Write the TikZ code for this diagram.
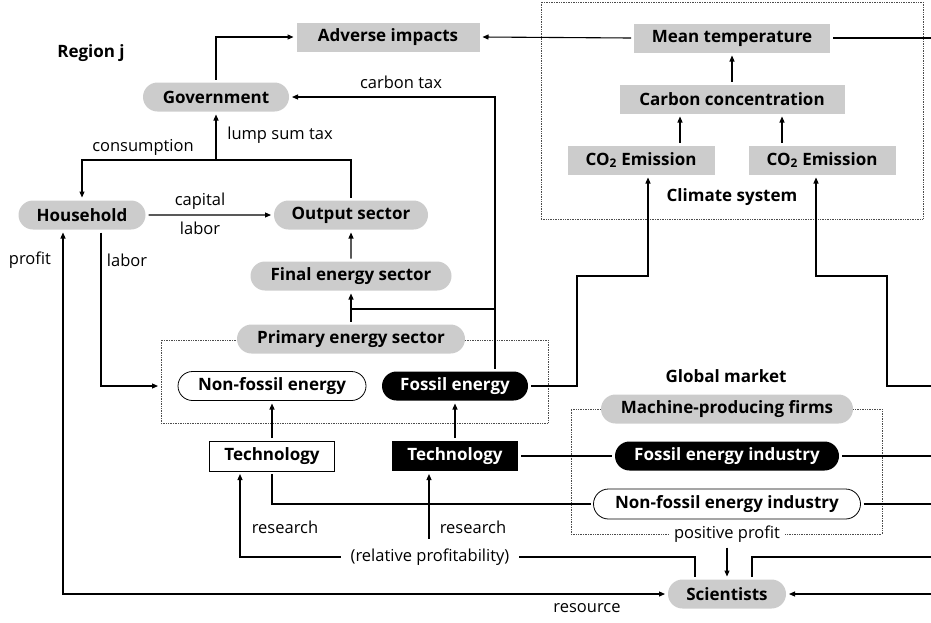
\documentclass[tikz,border=0pt]{standalone}
\usepackage{fontspec}
\setmainfont{Open Sans}
\usetikzlibrary{arrows.meta,shapes.misc}

\begin{document}
\begin{tikzpicture}[x=1pt, y=-1pt,
  font=\fontsize{16.5}{18}\selectfont,
  blk/.style={minimum height=29pt, inner sep=0pt, outer sep=3pt,
              font=\fontsize{17}{19}\selectfont\bfseries},
  gbox/.style={blk, fill=black!20},
  gpill/.style={blk, rounded rectangle, fill=black!20},
  wpill/.style={blk, rounded rectangle, draw, line width=0.8pt, fill=white},
  bpill/.style={blk, rounded rectangle, fill=black, text=white},
  wrect/.style={blk, draw, line width=0.8pt, fill=white},
  brect/.style={blk, fill=black, text=white},
  frame/.style={draw=black!70, densely dotted, line width=0.7pt, inner sep=0pt, outer sep=3pt},
  lbl/.style={inner sep=2pt},
  ttl/.style={font=\fontsize{17}{19}\selectfont\bfseries},
  fl/.style={-{Triangle[length=6pt,width=5pt]}, line width=1.1pt},
  ln/.style={line width=1.1pt}
]
\useasboundingbox (0,0) rectangle (931,622);

% ---------- dotted frames ----------
\node[frame, minimum width=382pt, minimum height=217pt] (clim) at (732,110.5) {};
\node[frame, minimum width=387pt, minimum height=83pt]  (pbox) at (354.5,381.5) {};
\node[frame, minimum width=311pt, minimum height=125pt] (mbox) at (726.5,471.5) {};

% ---------- climate system ----------
\node[gbox, minimum width=196pt] (temp) at (732,38)  {Mean temperature};
\node[gbox, minimum width=225pt] (conc) at (732,99)  {Carbon concentration};
\node[gbox, minimum width=147pt] (emA)  at (641,160) {CO\textsubscript{2} Emission};
\node[gbox, minimum width=147pt] (emB)  at (822,160) {CO\textsubscript{2} Emission};
\node[ttl] (climt) at (732,197) {Climate system};
\draw[fl] (conc) -- (temp);
\draw[fl] ([xshift=39]emA.north) -- ([xshift=39]emA.north |- conc.south);
\draw[fl] ([xshift=-40]emB.north) -- ([xshift=-40]emB.north |- conc.south);

% ---------- region j ----------
\node[ttl] (reg) at (91,53) {Region j};
\node[gbox, minimum width=183pt] (adv) at (388,37) {Adverse impacts};
\coordinate (r1) at (931,38);
\draw[fl] (temp.west) -- (adv.east);
\draw[ln] (temp.east) -- (r1);

\node[gpill, minimum width=146pt] (gov) at (216,97)  {Government};
\node[gpill, minimum width=127pt] (hh)  at (82,215)  {Household};
\node[gpill, minimum width=154pt] (out) at (351,215) {Output sector};
\node[gpill, minimum width=201pt] (fin) at (351,276) {Final energy sector};
\draw[fl] (gov.north) |- (adv.west);

\coordinate (jg) at (216,160);
\draw[fl] (out.north) |- (jg) -| (hh.north);
\draw[fl] (jg) -- (gov.south);
\node[lbl] (lst) at (280,135) {lump sum tax};
\node[lbl] (cons) at (143,147) {consumption};
\draw[fl] (hh) -- (out);
\node[lbl] (cap) at (200,201) {capital};
\node[lbl] (lab1) at (200,228) {labor};
\draw[fl] (fin) -- (out);

% ---------- primary energy sector ----------
\node[gpill, minimum width=228pt] (prim) at (351,339) {Primary energy sector};
\node[wpill, minimum width=188pt] (nf)   at (272,386) {Non-fossil energy};
\node[bpill, minimum width=146pt] (fos)  at (455,386) {Fossil energy};
\node[wrect, minimum width=125pt, minimum height=30pt] (tw) at (272,456) {Technology};
\node[brect, minimum width=126pt, minimum height=30pt] (tb) at (455,456) {Technology};

\coordinate (jp) at (351,309);
\draw[ln] (prim.north) -- (jp);
\draw[fl] (jp) -- (fin.south);
\draw[ln] (jp) -- ([xshift=40]fos.north |- jp);
\draw[fl] ([xshift=40]fos.north) |- (gov.east);
\node[lbl] (ctax) at (401,82) {carbon tax};

\draw[fl] ([xshift=19]hh.south) |- (pbox.west |- nf.west);
\node[lbl] (prof) at (30,260) {profit};
\node[lbl] (lab2) at (127,260) {labor};

\draw[fl] (tw) -- (nf);
\draw[fl] (tb) -- (fos);

% ---------- fossil energy to emissions ----------
\coordinate (fa) at (577,276);
\draw[fl] (fos.east) -| (fa) -| ([xshift=7]emA.south);
\coordinate (r2) at (931,386);
\coordinate (fb) at (887,276);
\draw[fl] (r2) -| (fb) -| ([xshift=-6]emB.south);

% ---------- global market ----------
\node[ttl] (glob) at (726,376) {Global market};
\node[gpill, minimum width=252pt] (mach) at (727,409) {Machine-producing firms};
\node[bpill, minimum width=224pt] (fi)   at (727,456) {Fossil energy industry};
\node[wpill, minimum width=267pt, minimum height=30pt] (nfi) at (727,504) {Non-fossil energy industry};
\node[lbl, fill=white, inner sep=5pt] (pp) at (727,534) {positive profit};
\coordinate (r3) at (931,456);
\coordinate (r4) at (931,504);
\draw[ln] (tb.east) -- (fi.west);
\draw[ln] (fi.east) -- (r3);
\draw[ln] (nfi.west) -| (tw.south);
\draw[ln] (nfi.east) -- (r4);

% ---------- scientists ----------
\node[gpill, minimum width=118pt] (sci) at (727,594) {Scientists};
\draw[fl] (pp.south) -- (sci.north);
\coordinate (r5) at (931,557);
\coordinate (r6) at (931,594);
\draw[ln] (r5) -| ([xshift=25]sci.north);
\draw[fl] (r6) -- (sci.east);
\draw[fl, {Triangle[length=6pt,width=5pt]}-{Triangle[length=6pt,width=5pt]}]
  ([xshift=-19]hh.south) |- (sci.west);
\node[lbl] (res) at (587,608) {resource};

\node[inner sep=2pt, outer sep=8pt] (relp) at (430,557) {(relative profitability)};
\draw[ln] ([xshift=-32]sci.north) |- (relp.east);
\draw[fl] (relp.west) -| ([xshift=-32]tw.south);
\draw[fl] ([xshift=-26]tb.south |- relp.north) -- ([xshift=-26]tb.south);
\node[lbl] (rs1) at (285,527) {research};
\node[lbl] (rs2) at (473,527) {research};

\end{tikzpicture}
\end{document}
